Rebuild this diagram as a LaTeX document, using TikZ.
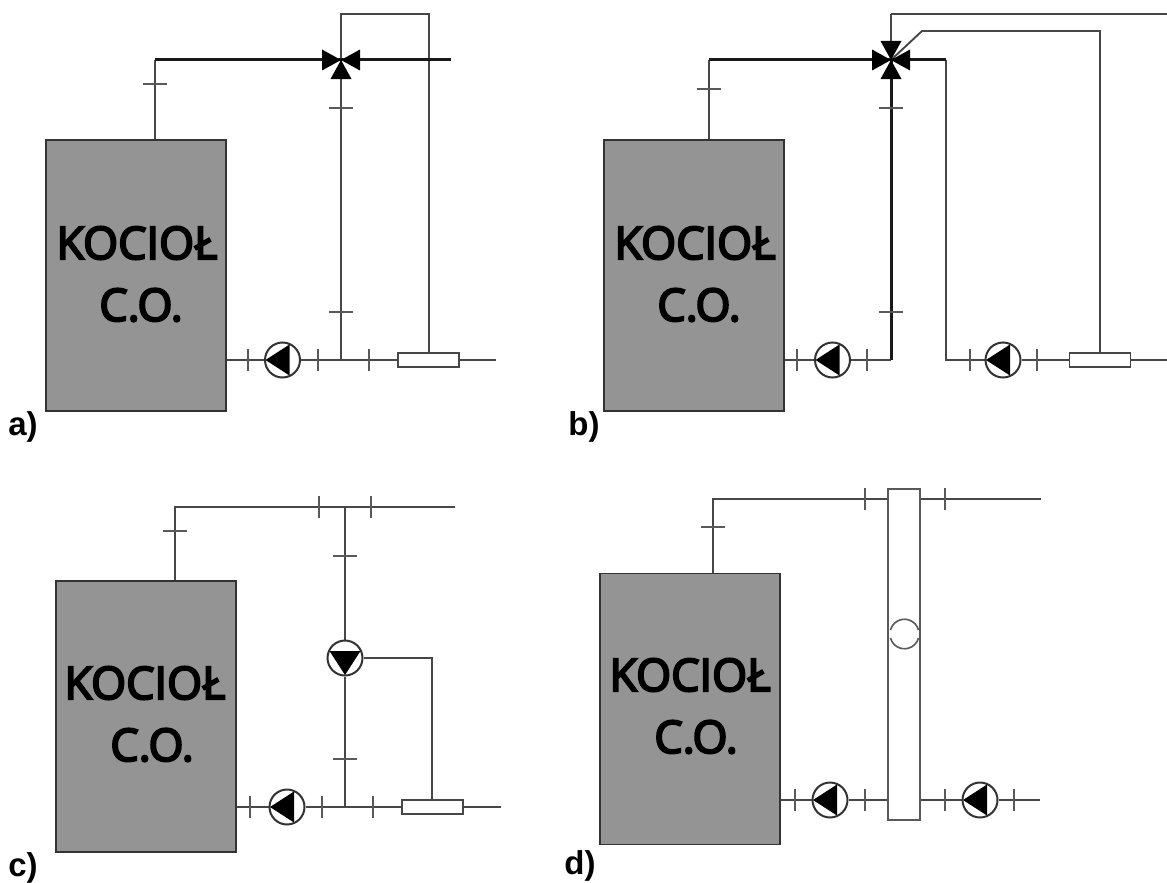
\documentclass[tikz,border=0pt]{standalone}
\usepackage{fontspec}
\usetikzlibrary{backgrounds}
\setmainfont{Liberation Sans}
\newfontfamily\boilerfont[FakeBold=4.5]{Open Sans}
\tikzset{
	pipe/.style={draw=black!72, line width=1.9pt, line join=miter},
	hotpipe/.style={draw=black!90, line width=3pt},
	tick/.style={draw=black!65, line width=1.6pt},
	boiler/.style={draw=black!80, fill=black!42, line width=1.6pt, minimum width=180pt, minimum height=271pt, inner sep=0pt},
	boilertext/.style={font=\boilerfont\fontsize{45}{45}\selectfont, text=black, inner sep=0pt},
	panellabel/.style={font=\bfseries\fontsize{33}{33}\selectfont, text=black, inner sep=0pt},
	pump/.style={circle, draw=black!80, fill=white, line width=2pt, minimum size=35pt, inner sep=0pt},
	valve/.style={rectangle, draw=black!72, fill=white, line width=1.7pt, minimum width=61pt, minimum height=14pt, inner sep=0pt},
	tube/.style={rectangle, draw=black!65, fill=white, line width=1.8pt, minimum width=32pt, minimum height=331pt, inner sep=0pt},
	mixer/.style={inner sep=0pt, minimum size=0pt}
}
\newcommand{\mixtips}[2]{\foreach \a in {#2} \fill[shift={(#1)}, rotate=\a] (0,0) -- (-19,-10.5) -- (-19,10.5) -- cycle;}
\newcommand{\pumptip}[2]{\fill[shift={(#1)}, rotate=#2] (-17,0) -- (7,-15.5) -- (7,15.5) -- cycle;}
\begin{document}
\begin{tikzpicture}[x=1pt, y=-1pt]
	\useasboundingbox (0,0) rectangle (1167,883);

	\node[boiler] (boilerA) at (136,275.5) {};
	\node[boilertext] (kociolA) at (137,243) {KOCIOŁ};
	\node[boilertext] (coA) at (141,305) {C.O.};
	\node[panellabel] (labelA) at (23,427) {a)};
	\node[mixer] (mixA) at (341,60) {};
	\node[pump] (pumpA) at (282.5,360) {};
	\node[valve] (valveA) at (428.5,360) {};
	\coordinate (a1) at (155,60);
	\coordinate (a2) at (451,60);
	\coordinate (a3) at (341,14);
	\coordinate (a4) at (429,14);
	\coordinate (a5) at (341,360);
	\coordinate (a6) at (496,360);
	\begin{scope}[on background layer]
		\draw[pipe] (a5) -- (a3) -- (a4) -- (valveA.north -| a4);
		\draw[pipe] (boilerA.east |- pumpA) -- (pumpA) -- (valveA) -- (a6);
		\draw[pipe] (a1 |- boilerA.north) -- (a1);
		\draw[hotpipe] (a1) -- (mixA);
		\draw[hotpipe] (a2) -- (mixA);
	\end{scope}
	\mixtips{mixA}{0,90,180}
	\pumptip{pumpA}{0}
	\foreach \x in {248,318,369} \draw[tick] (\x,349) -- (\x,371);
	\foreach \y in {108,312} \draw[tick] (329,\y) -- (353,\y);
	\draw[tick] (143,84) -- (167,84);

	\node[boiler] (boilerB) at (694,275.5) {};
	\node[boilertext] (kociolB) at (695,243) {KOCIOŁ};
	\node[boilertext] (coB) at (699,305) {C.O.};
	\node[panellabel] (labelB) at (584,427) {b)};
	\node[mixer] (mixB) at (891,60) {};
	\node[pump] (pumpB) at (832.5,360) {};
	\node[pump] (pumpC) at (1003,360) {};
	\node[valve] (valveB) at (1100,360) {};
	\coordinate (b1) at (709,60);
	\coordinate (b2) at (946,60);
	\coordinate (b3) at (946,360);
	\coordinate (b4) at (891,360);
	\coordinate (b5) at (891,14);
	\coordinate (b6) at (1167,14);
	\coordinate (b7) at (922,31);
	\coordinate (b8) at (1100,31);
	\coordinate (b9) at (1167,360);
	\begin{scope}[on background layer]
		\draw[pipe] (boilerB.east |- pumpB) -- (pumpB) -- (b4);
		\draw[hotpipe] (b4) -- (mixB);
		\draw[pipe, line width=2.4pt] (mixB) -- (b5);
		\draw[pipe] (b5) -- (b6);
		\draw[pipe] (b2) -- (b3) -- (pumpC) -- (valveB) -- (b9);
		\draw[pipe] (mixB) -- (b7) -- (b8) -- (valveB.north -| b8);
		\draw[pipe] (b1 |- boilerB.north) -- (b1);
		\draw[hotpipe] (b1) -- (mixB);
		\draw[hotpipe] (b2) -- (mixB);
	\end{scope}
	\mixtips{mixB}{0,90,180,270}
	\pumptip{pumpB}{0}
	\pumptip{pumpC}{0}
	\foreach \x in {797,867,970,1037} \draw[tick] (\x,349) -- (\x,371);
	\foreach \y in {108,312} \draw[tick] (879,\y) -- (903,\y);
	\draw[tick] (697,89) -- (721,89);

	\node[boiler] (boilerC) at (146,716.5) {};
	\node[boilertext] (kociolC) at (145,683) {KOCIOŁ};
	\node[boilertext] (coC) at (152,745) {C.O.};
	\node[panellabel] (labelC) at (23,868) {c)};
	\node[pump] (pumpD) at (287,807) {};
	\node[pump] (pumpE) at (345,658) {};
	\node[valve] (valveC) at (432.5,807) {};
	\coordinate (c1) at (175,507);
	\coordinate (c3) at (455,507);
	\coordinate (c4) at (345,507);
	\coordinate (c5) at (345,807);
	\coordinate (c6) at (432,658);
	\coordinate (c7) at (501,807);
	\begin{scope}[on background layer]
		\draw[pipe] (c1 |- boilerC.north) -- (c1) -- (c3);
		\draw[pipe] (c4) -- (pumpE) -- (c5);
		\draw[pipe] (pumpE) -- (c6) -- (valveC.north -| c6);
		\draw[pipe] (boilerC.east |- pumpD) -- (pumpD) -- (valveC) -- (c7);
	\end{scope}
	\pumptip{pumpD}{0}
	\pumptip{pumpE}{90}
	\foreach \x in {250,322,373} \draw[tick] (\x,796) -- (\x,818);
	\foreach \x in {319,371} \draw[tick] (\x,496) -- (\x,518);
	\foreach \y in {556,759} \draw[tick] (333,\y) -- (357,\y);
	\draw[tick] (163,531) -- (187,531);

	\node[boiler] (boilerD) at (690,709) {};
	\node[boilertext] (kociolD) at (690,675) {KOCIOŁ};
	\node[boilertext] (coD) at (696,737) {C.O.};
	\node[panellabel] (labelD) at (580,866) {d)};
	\node[tube] (tubeD) at (904,654.5) {};
	\node[pump] (pumpF) at (830,800) {};
	\node[pump] (pumpG) at (980,800) {};
	\coordinate (d1) at (713,499);
	\coordinate (d3) at (1041,499);
	\coordinate (d4) at (1040,800);
	\begin{scope}[on background layer]
		\draw[pipe] (d1 |- boilerD.north) -- (d1) -- (tubeD.west |- d1);
		\draw[pipe] (tubeD.east |- d1) -- (d3);
		\draw[pipe] (boilerD.east |- pumpF) -- (pumpF) -- (tubeD.west |- pumpF);
		\draw[pipe] (tubeD.east |- pumpG) -- (pumpG) -- (d4);
	\end{scope}
	\pumptip{pumpF}{0}
	\pumptip{pumpG}{0}
	\draw[tick] (890.5,630) arc[start angle=165, end angle=15, radius=14.5pt];
	\draw[tick] (890.5,638) arc[start angle=195, end angle=345, radius=14.5pt];
	\foreach \x in {795,865,945,1014} \draw[tick] (\x,789) -- (\x,811);
	\foreach \x in {865,945} \draw[tick] (\x,488) -- (\x,510);
	\draw[tick] (701,527) -- (725,527);
\end{tikzpicture}
\end{document}
